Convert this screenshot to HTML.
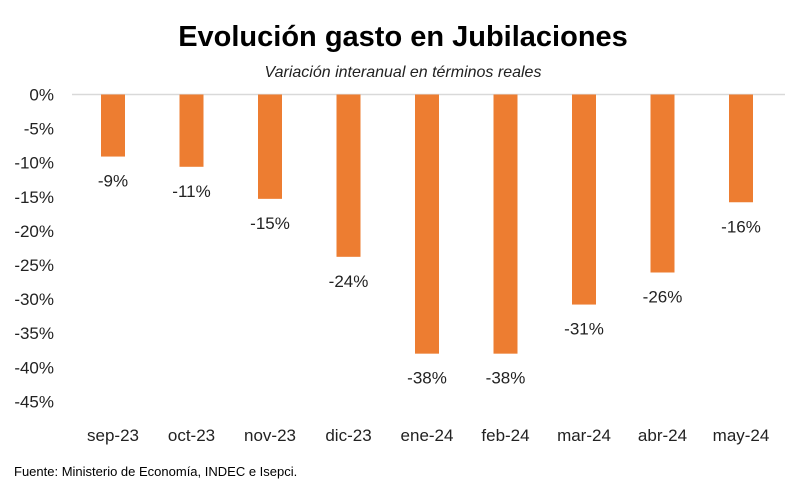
<!DOCTYPE html>
<html><head><meta charset="utf-8"><style>
body{margin:0;background:#fff;width:800px;height:484px;overflow:hidden;font-family:"Liberation Sans",sans-serif}
</style></head><body>
<svg id="chart" width="800" height="484" xmlns="http://www.w3.org/2000/svg">
<text x="403" y="46" text-anchor="middle" font-size="29" font-weight="bold" fill="#000">Evolución gasto en Jubilaciones</text>
<text x="403" y="77" text-anchor="middle" font-size="16" font-style="italic" fill="#222">Variación interanual en términos reales</text>
<line x1="72" y1="94.5" x2="785" y2="94.5" stroke="#d9d9d9" stroke-width="1.5"/>
<g id="yticks"></g><g id="bars"></g><g id="xlabels"></g>
<text x="14" y="476" font-size="13" fill="#000">Fuente: Ministerio de Economía, INDEC e Isepci.</text>
</svg>
<script>
const categories=["sep-23","oct-23","nov-23","dic-23","ene-24","feb-24","mar-24","abr-24","may-24"];
const values=[-9.1,-10.6,-15.3,-23.8,-38,-38,-30.8,-26.1,-15.8];
const valueLabels=["-9%","-11%","-15%","-24%","-38%","-38%","-31%","-26%","-16%"];
const yTicks=[0,-5,-10,-15,-20,-25,-30,-35,-40,-45];
const NS="http://www.w3.org/2000/svg";
function y(v){return 94.5+(-v)*6.82;}
function x(i){return 113+i*78.5;}
function mk(tag,attrs,parent,txt){const e=document.createElementNS(NS,tag);for(const k in attrs)e.setAttribute(k,attrs[k]);if(txt!==undefined)e.textContent=txt;parent.appendChild(e);return e;}
const gy=document.getElementById('yticks'),gb=document.getElementById('bars'),gx=document.getElementById('xlabels');
yTicks.forEach(t=>{
 const e=mk('text',{x:54,y:y(t)+6,'text-anchor':'end','font-size':17,fill:'#222'},gy,t+'%');
 
 
});
categories.forEach((c,i)=>{
 const v=values[i];
 const r=mk('rect',{x:x(i)-12,y:y(0),width:24,height:y(v)-y(0),fill:'#ED7D31'},gb);
 
 
 const l=mk('text',{x:x(i),y:y(v)+30,'text-anchor':'middle','font-size':17,fill:'#222'},gb,valueLabels[i]);
 
 
 const xl=mk('text',{x:x(i),y:441,'text-anchor':'middle','font-size':17,fill:'#222'},gx,c);
 
 
});
</script>
</body></html>
